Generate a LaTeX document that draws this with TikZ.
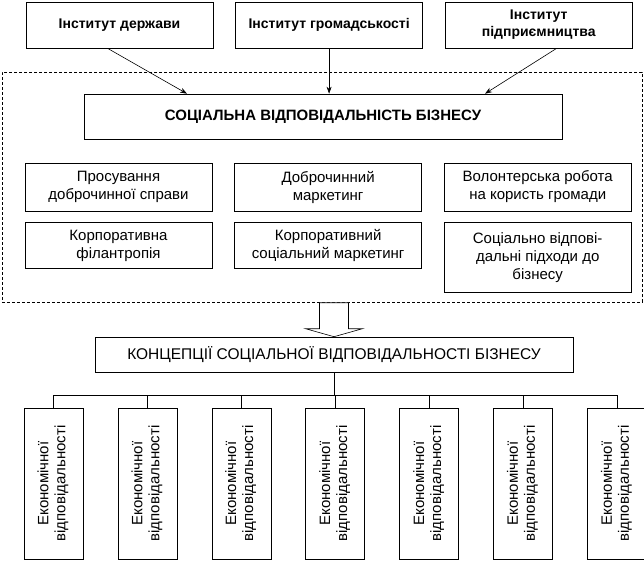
\documentclass[tikz,border=0pt]{standalone}
\usepackage{fontspec}
\setmainfont{Liberation Sans}
\usepackage{graphicx}
\usetikzlibrary{arrows.meta,positioning,calc}

\newcommand{\econtext}{\rotatebox{90}{\begin{tabular}{@{}c@{}}Економічної\\відповідальності\end{tabular}}}

\begin{document}
\begin{tikzpicture}[x=1bp, y=-1bp,
  inst/.style={draw, line width=0.6bp, minimum width=187bp, minimum height=46bp, align=center, inner sep=2bp, font=\fontsize{14bp}{17bp}\selectfont\bfseries},
  kind/.style={draw, line width=0.6bp, minimum width=187bp, minimum height=48bp, align=center, inner sep=2bp, font=\fontsize{15bp}{18bp}\selectfont},
  head/.style={draw, line width=0.6bp, minimum width=478bp, align=center, inner sep=2bp},
  vbox/.style={draw, line width=0.6bp, minimum width=59bp, minimum height=151bp, inner sep=0pt, font=\fontsize{15bp}{17bp}\selectfont},
  zone/.style={draw, dash pattern=on 3bp off 2bp, line width=0.6bp, minimum width=640bp, minimum height=230bp},
  arr/.style={-{Stealth[length=7bp,width=5bp]}, line width=0.6bp},
  wire/.style={line width=0.6bp}
]
\useasboundingbox (0,0) rectangle (644,578);

\node[zone] (zone) at (322,187) {};

\node[inst] (inst1) at (119.5,25) {Інститут держави};
\node[inst, right=22bp of inst1] (inst2) {Інститут громадськості};
\node[inst, right=22bp of inst2] (inst3) {Інститут\\підприємництва};

\node[head, minimum height=45bp, font=\fontsize{15bp}{18bp}\selectfont\bfseries] (csr) at (323,116.5) {СОЦІАЛЬНА ВІДПОВІДАЛЬНІСТЬ БІЗНЕСУ};

\node[kind] (promo) at (118.5,187) {Просування\\доброчинної справи};
\node[kind, right=22bp of promo] (cmark) {Доброчинний\\маркетинг};
\node[kind, right=22bp of cmark] (volun) {Волонтерська робота\\на користь громади};
\node[kind, minimum height=46bp, below=11bp of promo] (phil) {Корпоративна\\філантропія};
\node[kind, minimum height=46bp, below=11bp of cmark] (smark) {Корпоративний\\соціальний маркетинг};
\node[kind, minimum height=70bp, below=11bp of volun] (resp) {Соціально відпові-\\дальні підходи до\\бізнесу};

\draw[arr] ([xshift=-12bp]inst1.south) -- ([xshift=-136bp]csr.north);
\draw[arr] (inst2.south) -- (inst2.south |- csr.north);
\draw[arr] ([xshift=18bp]inst3.south) -- ([xshift=162bp]csr.north);

\node[head, minimum height=35bp, font=\fontsize{15.5bp}{18bp}\selectfont] (conc) at (334,354.5) {КОНЦЕПЦІЇ СОЦІАЛЬНОЇ ВІДПОВІДАЛЬНОСТІ БІЗНЕСУ};

% hollow arrow from the frame down to the concepts
\draw[wire, fill=white] (conc.north) -- ++(-28.5,-8) -- ++(14,0) -- ++(0,-26) -- ++(29,0) -- ++(0,26) -- ++(14,0) -- cycle;

\node[vbox] (econ1) at (53.5,483.5) {\econtext};
\node[vbox, right=34.3bp of econ1] (econ2) {\econtext};
\node[vbox, right=34.3bp of econ2] (econ3) {\econtext};
\node[vbox, right=34.3bp of econ3] (econ4) {\econtext};
\node[vbox, right=34.3bp of econ4] (econ5) {\econtext};
\node[vbox, right=34.3bp of econ5] (econ6) {\econtext};
\node[vbox, right=34.3bp of econ6] (econ7) {\econtext};

\coordinate (bus) at ($(conc.south)+(0,23)$);
\draw[wire] (conc.south) -- (bus);
\draw[wire] (econ1.north |- bus) -- (econ7.north |- bus);
\foreach \i in {1,...,7} \draw[wire] (econ\i.north |- bus) -- (econ\i.north);
\end{tikzpicture}
\end{document}
